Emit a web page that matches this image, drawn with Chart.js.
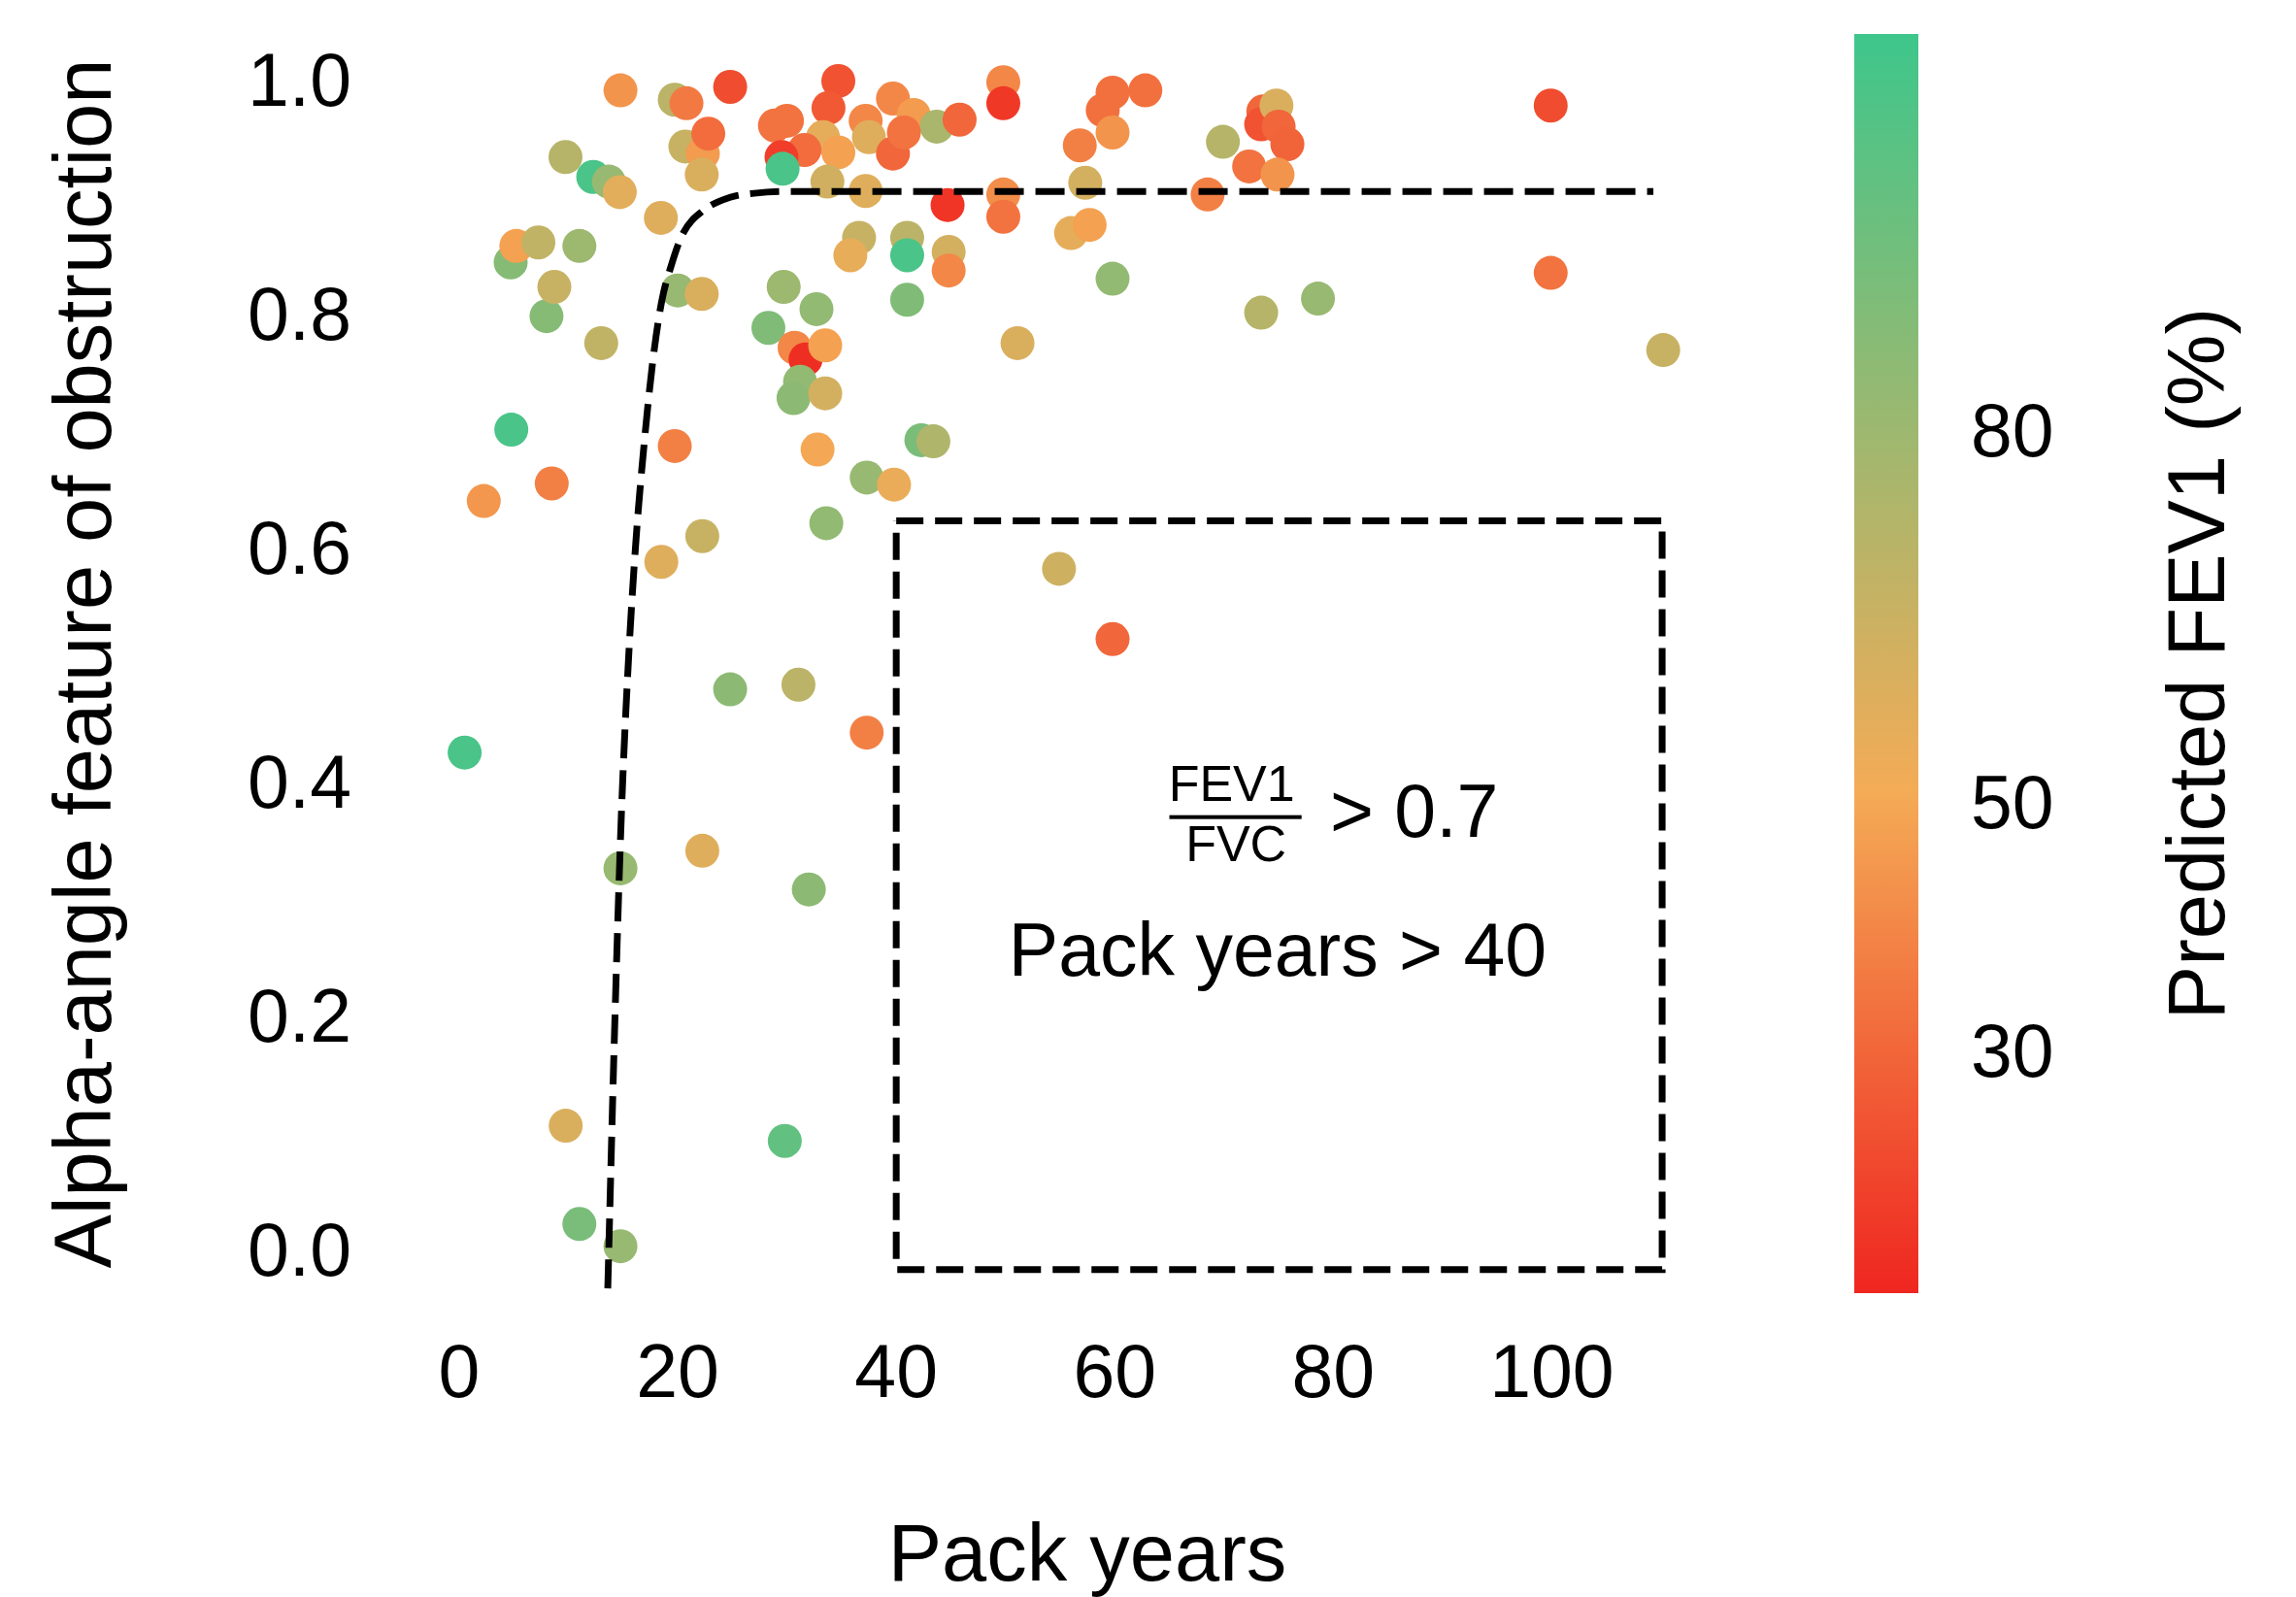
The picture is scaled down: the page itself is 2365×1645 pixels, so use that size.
<!DOCTYPE html>
<html>
<head>
<meta charset="utf-8">
<script src="https://cdn.jsdelivr.net/npm/chart.js@4.4.1/dist/chart.umd.min.js"></script>
<style>
  html, body { margin: 0; padding: 0; background: #fff; }
  #wrap { position: relative; width: 2365px; height: 1645px; }
  #main { position: absolute; left: 0; top: 0; }
  #bar { position: absolute; left: 1880px; top: 0; }
</style>
</head>
<body>
<div id="wrap">
  <canvas id="main" width="1880" height="1645"></canvas>
  <canvas id="bar" width="485" height="1645"></canvas>
</div>
<script>
// values
const packYears = [
  0.5, 2.25, 4.77, 4.71, 5.23, 7.25, 8.47, 7.99, 8.71, 9.73,
  11.0, 12.27, 13.0, 13.7, 14.7, 14.76, 9.75, 11.0, 14.76, 14.76,
  18.46, 19.73, 20.8, 20.7, 22.3, 22.8, 22.2, 20.0, 22.2, 24.8,
  19.73, 18.5, 22.25, 24.8, 22.25, 29.8, 34.7, 33.8, 28.9, 30.0,
  39.7, 41.6, 43.7, 37.2, 33.3, 37.5, 31.6, 34.7, 39.7, 40.7,
  45.8, 29.5, 29.6, 33.7, 37.2, 36.6, 35.8, 41.0, 41.0, 44.8,
  44.8, 44.7, 41.0, 29.7, 32.7, 28.3, 30.7, 31.7, 33.5, 31.2,
  30.6, 33.5, 42.3, 43.4, 32.8, 37.3, 39.8, 33.6, 31.05, 37.3,
  32.0, 49.8, 49.8, 49.8, 49.8, 51.1, 59.8, 58.9, 62.8, 56.8,
  59.8, 57.3, 56.0, 57.7, 59.8, 69.9, 68.5, 72.3, 73.6, 73.4,
  74.8, 75.0, 75.8, 74.9, 73.4, 78.6, 54.9, 59.8, 99.9, 99.9,
  110.2
];
const alphaAngle = [
  0.426, 0.641, 0.702, 0.845, 0.859, 0.862, 0.656, 0.799, 0.824, 0.935,
  0.859, 0.918, 0.776, 0.914, 0.905, 0.992, 0.107, 0.023, 0.004, 0.327,
  0.883, 0.984, 0.981, 0.944, 0.938, 0.955, 0.920, 0.821, 0.818, 0.995,
  0.688, 0.589, 0.611, 0.480, 0.342, 0.094, 1.000, 0.977, 0.962, 0.966,
  0.985, 0.971, 0.961, 0.966, 0.952, 0.952, 0.941, 0.939, 0.938, 0.956,
  0.967, 0.935, 0.925, 0.914, 0.906, 0.866, 0.851, 0.866, 0.851, 0.854,
  0.838, 0.894, 0.813, 0.824, 0.805, 0.789, 0.772, 0.762, 0.774, 0.743,
  0.729, 0.733, 0.693, 0.692, 0.685, 0.661, 0.655, 0.622, 0.484, 0.443,
  0.309, 0.999, 0.981, 0.903, 0.884, 0.776, 0.990, 0.975, 0.992, 0.945,
  0.956, 0.913, 0.870, 0.877, 0.831, 0.948, 0.903, 0.927, 0.974, 0.963,
  0.979, 0.961, 0.946, 0.920, 0.802, 0.814, 0.583, 0.523, 0.979, 0.836,
  0.770
];
const fev1Pred = [
  108, 45, 108, 88, 48, 68, 38, 88, 66, 72,
  80, 108, 68, 82, 57, 44, 60, 92, 82, 82,
  58, 70, 36, 66, 46, 32, 60, 82, 60, 22,
  38, 58, 66, 86, 58, 100, 24, 26, 34, 34,
  40, 46, 76, 40, 56, 58, 32, 48, 30, 34,
  30, 18, 108, 63, 58, 66, 55, 70, 108, 62,
  40, 15, 90, 80, 84, 90, 40, 13, 48, 84,
  86, 62, 92, 74, 50, 82, 54, 84, 70, 38,
  86, 40, 16, 42, 34, 60, 33, 33, 33, 38,
  44, 62, 56, 48, 84, 72, 38, 34, 30, 24,
  60, 30, 29, 44, 72, 82, 64, 30, 22, 34,
  66
];

// dashed fitted curve
const curveX = [13.6, 14.2, 14.84, 15.5, 16.2, 16.9, 17.7, 18.5, 19.4, 20.5, 22.3, 24.8, 27.0, 30.0, 109.3];
const curveY = [-0.032, 0.181, 0.372, 0.506, 0.61, 0.687, 0.759, 0.81, 0.842, 0.870, 0.889, 0.9006, 0.904, 0.9056, 0.9056];

// dashed box corners
const boxX = [40, 110.1, 110.1, 40, 40];
const boxY = [0.624, 0.624, -0.016, -0.016, 0.624];

const xTicks = [0, 20, 40, 60, 80, 100];
const yTicks = [0, 0.2, 0.4, 0.6, 0.8, 1.0];
const cbTicks = [30, 50, 80];
const cbMin = 10.6;
const cbMax = 112;

const FONT = "'Liberation Sans', Arial, Helvetica, sans-serif";
const cmapStops = [[10.6, [239, 38, 32]], [51, [244, 171, 86]], [112, [62, 198, 139]]];

const fevColor = (v) => {
  for (let i = 0; i < cmapStops.length - 1; i++) {
    const [v0, c0] = cmapStops[i];
    const [v1, c1] = cmapStops[i + 1];
    if (v <= v1 || i === cmapStops.length - 2) {
      let t = (v - v0) / (v1 - v0);
      t = Math.max(0, Math.min(1, t));
      const c = c0.map((a, k) => Math.round(a + (c1[k] - a) * t));
      return `rgb(${c[0]}, ${c[1]}, ${c[2]})`;
    }
  }
};

const toPoints = (xs, ys) => xs.map((v, i) => ({ x: v, y: ys[i] }));

// the scales must not push the plot area inwards
const fixWidth = (w) => (s) => {
  s.width = w;
  s.paddingTop = 0;
  s.paddingBottom = 0;
};
const fixHeight = (h) => (s) => {
  s.height = h;
  s.paddingLeft = 0;
  s.paddingRight = 0;
};

const annotations = {
  id: "annotations",
  afterDatasetsDraw(chart) {
    const { ctx } = chart;
    const x = chart.scales.x;
    const y = chart.scales.y;
    ctx.save();
    ctx.fillStyle = "#000";
    ctx.textBaseline = "alphabetic";
    ctx.font = `52px ${FONT}`;
    ctx.textAlign = "center";
    ctx.fillText("FEV1", x.getPixelForValue(70.7), y.getPixelForValue(0.3846));
    ctx.fillText("FVC", x.getPixelForValue(71.1), y.getPixelForValue(0.3334));
    const x0 = x.getPixelForValue(65.0);
    const x1 = x.getPixelForValue(77.1);
    ctx.fillRect(x0, y.getPixelForValue(0.3708) - 2, x1 - x0, 4);
    ctx.font = `77px ${FONT}`;
    ctx.textAlign = "left";
    ctx.fillText("> 0.7", x.getPixelForValue(79.7), y.getPixelForValue(0.354));
    ctx.textAlign = "center";
    ctx.fillText("Pack years > 40", x.getPixelForValue(74.9), y.getPixelForValue(0.2353));
    ctx.restore();
  },
};

const mainChart = new Chart(document.getElementById("main"), {
  type: "scatter",
  data: {
    datasets: [
      {
        type: "line",
        data: toPoints(curveX, curveY),
        borderColor: "#000",
        borderWidth: 7,
        borderDash: [30, 12],
        pointRadius: 0,
        fill: false,
        cubicInterpolationMode: "monotone",
      },
      {
        type: "line",
        data: toPoints(boxX, boxY),
        borderColor: "#000",
        borderWidth: 7,
        borderDash: [28, 12],
        pointRadius: 0,
        fill: false,
        tension: 0,
      },
      {
        data: toPoints(packYears, alphaAngle),
        backgroundColor: fev1Pred.map(fevColor),
        borderWidth: 0,
        pointRadius: 17.5,
        pointHoverRadius: 17.5,
      },
    ],
  },
  options: {
    responsive: false,
    animation: false,
    events: [],
    layout: { padding: { top: 35, right: 79, left: 0, bottom: 0 } },
    plugins: { legend: { display: false }, tooltip: { enabled: false } },
    scales: {
      x: {
        type: "linear",
        min: -3.02,
        max: 118,
        grid: { display: false, drawTicks: false },
        border: { display: false },
        afterBuildTicks: (s) => { s.ticks = xTicks.map((v) => ({ value: v })); },
        afterFit: fixHeight(313),
        ticks: {
          font: { family: FONT, size: 77 },
          color: "#000",
          padding: 40,
          maxRotation: 0,
          autoSkip: false,
        },
        title: {
          display: true,
          text: "Pack years",
          font: { family: FONT, size: 83, lineHeight: 1 },
          color: "#000",
          padding: { top: 0, bottom: -1.5 },
        },
      },
      y: {
        type: "linear",
        min: -0.0361,
        max: 1.0402,
        grid: { display: false, drawTicks: false },
        border: { display: false },
        afterBuildTicks: (s) => { s.ticks = yTicks.map((v) => ({ value: v })); },
        afterFit: fixWidth(439),
        ticks: {
          font: { family: FONT, size: 77 },
          color: "#000",
          padding: 77,
          labelOffset: 4,
          autoSkip: false,
          callback: (v) => Number(v).toFixed(1),
        },
        title: {
          display: true,
          text: "Alpha-angle feature of obstruction",
          font: { family: FONT, size: 83, lineHeight: 1 },
          color: "#000",
          padding: { top: 49.7, bottom: 0 },
        },
      },
    },
  },
  plugins: [annotations],
});

const cbTitle = {
  id: "cbTitle",
  afterDraw(chart) {
    const { ctx, chartArea } = chart;
    ctx.save();
    ctx.translate(chartArea.right + 292, (chartArea.top + chartArea.bottom) / 2);
    ctx.rotate(-Math.PI / 2);
    ctx.font = `83px ${FONT}`;
    ctx.fillStyle = "#000";
    ctx.textAlign = "center";
    ctx.textBaseline = "middle";
    ctx.fillText("Predicted FEV1 (%)", 0, 0);
    ctx.restore();
  },
};

const barChart = new Chart(document.getElementById("bar"), {
  type: "bar",
  data: {
    labels: [""],
    datasets: [
      {
        data: [[cbMin, cbMax]],
        backgroundColor: (c) => {
          const chart = c.chart;
          if (!chart.chartArea) return "#fff";
          const y = chart.scales.y;
          const g = chart.ctx.createLinearGradient(0, y.getPixelForValue(cbMin), 0, y.getPixelForValue(cbMax));
          cmapStops.forEach(([v, rgb]) => {
            g.addColorStop((v - cbMin) / (cbMax - cbMin), `rgb(${rgb[0]}, ${rgb[1]}, ${rgb[2]})`);
          });
          return g;
        },
        borderWidth: 0,
        barPercentage: 1,
        categoryPercentage: 1,
      },
    ],
  },
  options: {
    responsive: false,
    animation: false,
    events: [],
    layout: { padding: { top: 35, right: 0, left: 30, bottom: 313 } },
    plugins: { legend: { display: false }, tooltip: { enabled: false } },
    scales: {
      x: { display: false },
      y: {
        position: "right",
        min: cbMin,
        max: cbMax,
        grid: { display: false, drawTicks: false },
        border: { display: false },
        afterBuildTicks: (s) => { s.ticks = cbTicks.map((v) => ({ value: v })); },
        afterFit: fixWidth(389),
        ticks: {
          font: { family: FONT, size: 77 },
          color: "#000",
          padding: 54,
          labelOffset: 4,
          autoSkip: false,
        },
      },
    },
  },
  plugins: [cbTitle],
});
</script>
</body>
</html>
